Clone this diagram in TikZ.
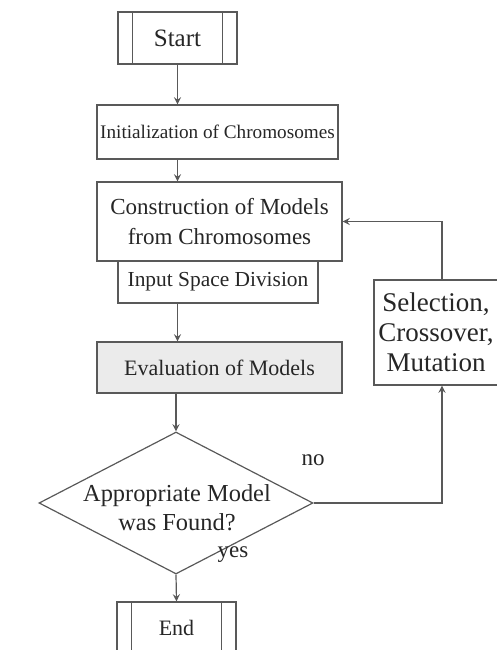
\documentclass[tikz,border=0pt]{standalone}
\usepackage{fontspec}
\setmainfont{Liberation Serif}
\usetikzlibrary{calc,shapes.geometric}
\tikzset{
  flowline/.style={draw=black!65, line width=0.6pt},
  flowarrow/.style={flowline, -stealth},
  flowtext/.style={text=black!85, inner sep=0pt, align=center, font=\fontsize{11.5}{15}\selectfont},
  flowbox/.style={flowtext, flowline},
  termnode/.style={flowbox, minimum width=59.5pt, minimum height=26pt, font=\fontsize{12.5}{15}\selectfont},
  decision/.style={flowline, diamond, inner sep=0pt, minimum width=137pt, minimum height=71pt},
}
\newcommand\termbox[5]{
  \node[termnode, #5] (#1) at ( #2, #3 ) {#4};
  \draw[flowline] ($ (#1.north west) + (15,0) $) -- ($ (#1.south west) + (15,0) $);
  \draw[flowline] ($ (#1.north east) + (-15,0) $) -- ($ (#1.south east) + (-15,0) $);
}

\begin{document}
\begin{tikzpicture}[x=0.5pt, y=-0.5pt]
  \useasboundingbox (0,0) rectangle (497,650);
  \clip (0,0) rectangle (497,650);

  \termbox{start}{177.5}{38}{Start}{}
  \node[flowbox, font=\fontsize{9.6}{15}\selectfont, minimum width=120.5pt, minimum height=27pt] (init) at (217.5,132) {Initialization of Chromosomes};
  \node[flowbox, minimum width=122.5pt, minimum height=39.5pt] (constr) at (219.5,221.5) {Construction of Models\\from Chromosomes};
  \node[flowbox, font=\fontsize{10.7}{15}\selectfont, minimum width=100pt, minimum height=21pt] (split) at (218,282) {Input Space Division};
  \node[flowbox, font=\fontsize{11}{15}\selectfont, fill=black!8, minimum width=122.5pt, minimum height=25.5pt] (eval) at (219.5,367.5) {Evaluation of Models};
  \node[decision] (dec) at (176,503) {};
  \node[flowtext, font=\fontsize{12.2}{14.5}\selectfont] (dectext) at (177,508) {Appropriate Model\\was Found?};
  \termbox{finish}{176.5}{628}{End}{font=\fontsize{11}{15}\selectfont}
  \node[flowbox, font=\fontsize{13.5}{15}\selectfont, minimum width=62pt, minimum height=52.5pt] (select) at (436,332.5) {Selection,\\Crossover,\\Mutation};

  \node[flowtext] (no) at (313,460) {no};
  \node[flowtext] (yes) at (233,555) {yes};

  % main column
  \draw[flowarrow] (start) -- (start |- init.north);
  \draw[flowarrow] (init.south -| start) -- (constr.north -| start);
  \draw[flowarrow] (split.south -| start) -- (eval.north -| start);
  \draw[flowarrow] (eval.south -| dec) -- (dec.north);
  \draw[flowarrow] (dec.south) -- (finish.north);

  % loop back
  \coordinate (loop) at (442,0);
  \draw[flowarrow] (dec.east) -| (select.south -| loop);
  \draw[flowarrow] (select.north -| loop) |- (constr.east);
\end{tikzpicture}
\end{document}
